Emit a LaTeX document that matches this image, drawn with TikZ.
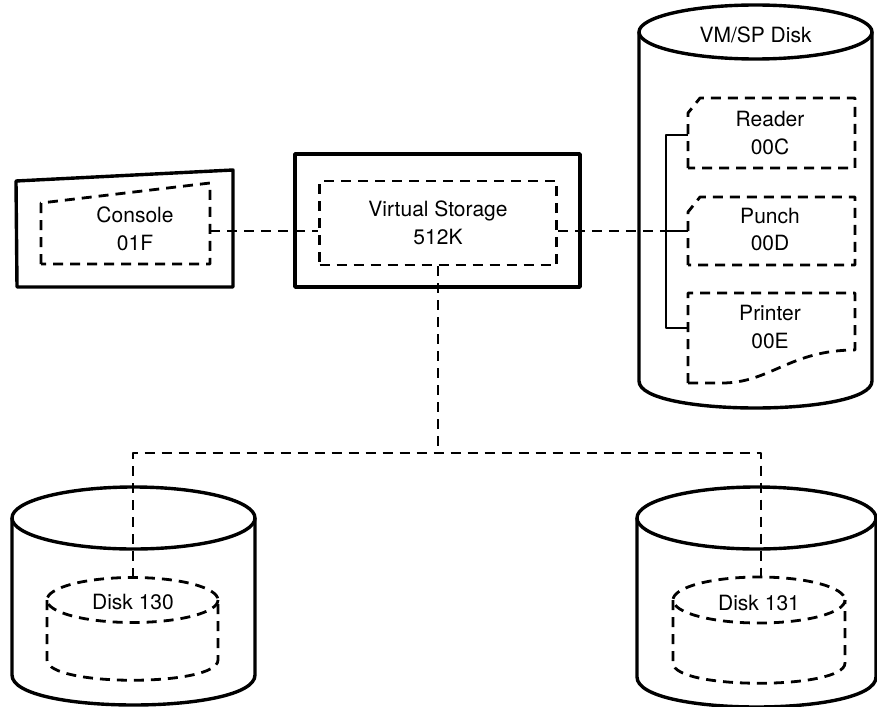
\documentclass[tikz,border=0pt]{standalone}
\usepackage{fontspec}
\setmainfont{TeX Gyre Heros}
\begin{document}
\begin{tikzpicture}[x=1pt,y=-1pt,line join=round,
  solidln/.style={line width=3.4pt},
  thinln/.style={line width=2.6pt},
  dline/.style={line width=2.8pt,dash pattern=on 10pt off 7pt},
  lbl/.style={font=\fontsize{21}{28}\selectfont,align=center,inner sep=0pt}]
\useasboundingbox (0,0) rectangle (877,706);

% ---- Console ----
\draw[solidln] (16,181) -- (233,170) -- (233,287) -- (17,287) -- cycle;
\draw[dline] (41,264) -- (41,203) -- (210,183) -- (210,264) -- cycle;
\node[lbl] (con) at (135,229) {Console\\01F};
\coordinate (conR) at (210,231);

% ---- Virtual storage ----
\draw[solidln] (295,154) rectangle (580,287);
\node[draw,dline,minimum width=237pt,minimum height=84pt,lbl] (vs) at (438,223) {Virtual Storage\\512K};

% ---- VM/SP disk ----
\draw[solidln] (639,32) -- (639,381) .. controls (639,417) and (872,417) .. (872,381) -- (872,32);
\draw[solidln,fill=white] (755.5,32) ellipse [x radius=116.5,y radius=27];
\node[lbl] (vmsp) at (755.5,35) {VM/SP Disk};

\draw[dline] (688,168) -- (688,113) -- (700,98) -- (855,98) -- (855,168) -- cycle;
\node[lbl] (rdr) at (770,133.5) {Reader\\00C};
\draw[dline] (688,265) -- (688,212) -- (700,197) -- (855,197) -- (855,265) -- cycle;
\node[lbl] (pun) at (770,229.5) {Punch\\00D};
\draw[dline] (688,383) -- (688,293) -- (855,293) -- (855,350) .. controls (790,350) and (770,383) .. (722,383) -- cycle;
\node[lbl] (prt) at (770,326.5) {Printer\\00E};

\coordinate (rdL) at (688,135);
\coordinate (puL) at (688,231);
\coordinate (prL) at (688,328);
\coordinate (brk) at (666,231);
\draw[thinln] (rdL) -- (rdL -| brk) -- (prL -| brk) -- (prL);
\draw[thinln] (brk) -- (puL);

% ---- connectors ----
\draw[dline] (conR) -- (conR -| vs.west);
\draw[dline] (conR -| vs.east) -- (brk);

% ---- Disk 130 ----
\draw[solidln] (12,518) -- (12,675) .. controls (12,715) and (255,715) .. (255,675) -- (255,518);
\draw[solidln,fill=white] (133.5,518) ellipse [x radius=121.5,y radius=31];
\draw[dline] (47,600) -- (47,660) .. controls (47,687) and (218,687) .. (218,660) -- (218,600);
\draw[dline] (132.5,600) ellipse [x radius=85.5,y radius=22.5];
\node[lbl] (d130) at (133,602) {Disk 130};
\coordinate (d130in) at (133,577.5);

% ---- Disk 131 ----
\draw[solidln] (637,518) -- (637,677) .. controls (637,717) and (876,717) .. (876,677) -- (876,518);
\draw[solidln,fill=white] (756.5,518) ellipse [x radius=119.5,y radius=31];
\draw[dline] (673,600) -- (673,663) .. controls (673,690) and (845,690) .. (845,663) -- (845,600);
\draw[dline] (759,600) ellipse [x radius=86,y radius=23];
\node[lbl] (d131) at (759,603) {Disk 131};
\coordinate (d131in) at (761,577);

% ---- bottom branch ----
\coordinate (hL) at (133,453);
\coordinate (hR) at (761,453);
\draw[dline] (vs.south) -- (vs.south |- hL);
\draw[dline] (d130in) -- (hL) -- (hR) -- (d131in);
\end{tikzpicture}
\end{document}
